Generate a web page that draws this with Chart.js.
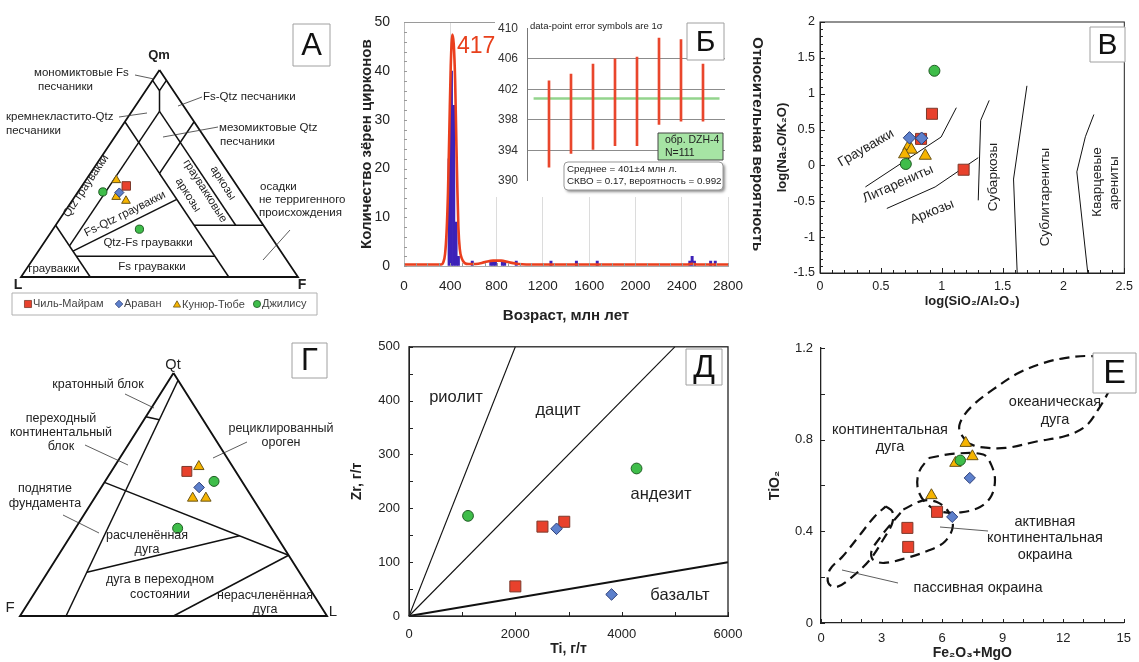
<!DOCTYPE html>
<html>
<head>
<meta charset="utf-8">
<script src="https://cdn.jsdelivr.net/npm/chart.js@4.4.1/dist/chart.umd.min.js"></script>
<style>
  html, body { margin: 0; padding: 0; background: #fff; }
  body { width: 1139px; height: 662px; position: relative; overflow: hidden; }
  canvas { position: absolute; }
  #cBi { background: #fff; }
</style>
</head>
<body>
<canvas id="cA"></canvas>
<canvas id="cB"></canvas>
<canvas id="cBi"></canvas>
<canvas id="cV"></canvas>
<canvas id="cG"></canvas>
<canvas id="cD"></canvas>
<canvas id="cE"></canvas>
<script>
/* ── Data ─────────────────────────────────────────────────────────────── */

var SERIES_NAMES = { chil: 'Чиль-Майрам', aravan: 'Араван', kunyur: 'Кунюр-Тюбе', dzhil: 'Джилису' };

// А: Qm-F-L, percent [Qm, F, L]
var A_CHIL   = [[44, 16, 40]];
var A_ARAVAN = [[40.8, 15.1, 44.1]];
var A_KUNYUR = [[46.8, 11, 42.2], [38.7, 15, 46.3], [36.8, 19.5, 43.7]];
var A_DZHIL  = [[41.1, 9, 49.9], [23.1, 31.2, 45.7]];
var A_FIELDS = [
  [[100, 0, 0], [0, 0, 100], [0, 100, 0], [100, 0, 0]],
  [[95, 0, 5], [90, 5, 5], [95, 5, 0]],
  [[90, 5, 5], [80, 10, 10]],
  [[80, 10, 10], [15, 10, 75]],
  [[80, 10, 10], [25, 65, 10]],
  [[75, 0, 25], [50, 25, 25], [75, 25, 0]],
  [[50, 25, 25], [0, 75, 25]],
  [[37.5, 37.5, 25], [12.5, 12.5, 75]],
  [[25, 0, 75], [0, 25, 75]],
  [[10, 15, 75], [10, 65, 25]],
  [[25, 50, 25], [25, 75, 0]]
];

// Б: detrital zircon ages
var HIST_AGES   = [390, 410, 430, 450, 470, 590, 750, 770, 790, 850, 870, 970, 1270, 1490, 1670, 2470, 2490, 2510, 2650, 2690];
var HIST_COUNTS = [22, 40, 33, 9, 2, 1, 1, 1, 1, 1, 1, 1, 1, 1, 1, 1, 2, 1, 1, 1];
var KDE_AGES   = [0, 200, 320, 340, 355, 368, 380, 392, 404, 418, 430, 442, 452, 461, 470, 482, 500, 525, 560, 620, 700, 770, 840, 900, 960, 1020, 1100, 1400, 1800, 2200, 2440, 2490, 2540, 2800];
var KDE_VALUES = [0.3, 0.3, 0.3, 0.8, 2.5, 7, 15, 28, 41, 47.5, 45.5, 38, 26, 16, 8, 3.5, 1.5, 0.6, 0.4, 0.4, 0.8, 1.1, 1.1, 0.8, 0.5, 0.35, 0.3, 0.3, 0.3, 0.3, 0.3, 0.45, 0.3, 0.3];
var INSET_LOW  = [391.8, 393.6, 394.1, 394.6, 394.6, 397.4, 397.8, 397.8];
var INSET_HIGH = [403.1, 404.0, 405.3, 406.0, 406.2, 408.7, 408.5, 405.3];
var MEAN_AGE   = 400.8;

// В: log(SiO2/Al2O3) vs log(Na2O/K2O)
var V_CHIL   = [[0.92, 0.72], [0.83, 0.37], [1.18, -0.06]];
var V_ARAVAN = [[0.735, 0.385], [0.835, 0.38]];
var V_KUNYUR = [[0.73, 0.27], [0.75, 0.22], [0.695, 0.155], [0.865, 0.135]];
var V_DZHIL  = [[0.94, 1.32], [0.705, 0.02]];
var V_LINES = [
  [[0.373, -0.30], [0.995, 0.396], [1.12, 0.805]],
  [[0.549, -0.60], [0.946, -0.30], [1.30, 0.108]],
  [[1.39, 0.907], [1.32, 0.629], [1.30, -0.487]],
  [[1.70, 1.11], [1.59, -0.19], [1.62, -1.5]],
  [[2.25, 0.71], [2.18, 0.40], [2.11, -0.09], [2.20, -1.5]]
];

// Г: Qt-F-L, percent [Qt, F, L]
var G_CHIL   = [[59.5, 15.9, 24.6]];
var G_ARAVAN = [[52.9, 15.2, 31.9]];
var G_KUNYUR = [[61.5, 11, 27.5], [48.5, 19.5, 32], [48.5, 15.2, 36.3]];
var G_DZHIL  = [[55.4, 9.1, 35.5], [36.1, 30.6, 33.3]];
var G_FIELDS = [
  [[100, 0, 0], [0, 100, 0], [0, 0, 100], [100, 0, 0]],
  [[97, 0, 3], [0, 85, 15]],
  [[82, 18, 0], [80.8, 14.2, 5.0]],
  [[55, 45, 0], [25, 0, 75]],
  [[18, 69.2, 12.8], [33, 12, 55]],
  [[0, 50, 50], [25, 0, 75]]
];

// Д: Ti vs Zr, ppm
var D_CHIL   = [[2510, 166], [2920, 175], [2000, 55]];
var D_ARAVAN = [[2775, 162], [3810, 40]];
var D_DZHIL  = [[1110, 186], [4280, 274]];
var D_LINES  = [[[0, 0], [2000, 500]], [[0, 0], [5000, 500]], [[0, 0], [6000, 100]]];

// Е: Fe2O3+MgO vs TiO2
var E_CHIL   = [[5.75, 0.485], [4.28, 0.415], [4.32, 0.332]];
var E_ARAVAN = [[7.37, 0.633], [6.5, 0.463]];
var E_KUNYUR = [[7.17, 0.785], [7.5, 0.727], [6.66, 0.698], [5.47, 0.557]];
var E_DZHIL  = [[6.9, 0.71]];
var E_OCEANIC = [[7.25, 0.785], [6.85, 0.844], [7.01, 0.895], [7.56, 0.953], [8.51, 1.018], [9.78, 1.091], [11.04, 1.135], [12.07, 1.156], [13.2, 1.165], [14.2, 1.15], [14.5, 1.08], [14.29, 1.018], [13.73, 0.931], [13.10, 0.858], [12.15, 0.817], [10.73, 0.793], [9.15, 0.764], [7.88, 0.768], [7.25, 0.785]];
var E_CONT_ARC = [[5.35, 0.72], [6.61, 0.739], [8.04, 0.735], [8.43, 0.691], [8.62, 0.625], [8.43, 0.553], [7.88, 0.506], [6.93, 0.483], [5.90, 0.487], [5.19, 0.524], [4.79, 0.589], [4.87, 0.662], [5.35, 0.72]];
var E_ACTIVE = [[4.08, 0.495], [5.03, 0.534], [5.74, 0.528], [6.30, 0.487], [6.53, 0.422], [6.14, 0.356], [5.35, 0.317], [4.24, 0.284], [3.13, 0.262], [2.58, 0.276], [2.50, 0.313], [2.97, 0.378], [3.53, 0.439], [4.08, 0.495]];
var E_PASSIVE = [[3.21, 0.509], [3.53, 0.487], [3.53, 0.436], [3.13, 0.371], [2.42, 0.276], [1.47, 0.196], [0.76, 0.157], [0.36, 0.175], [0.44, 0.233], [1.08, 0.291], [1.87, 0.378], [2.66, 0.465], [3.21, 0.509]];

/* ── Styles & helpers ─────────────────────────────────────────────────── */

var FONT = '"Liberation Sans", Arial, sans-serif';
Chart.defaults.font.family = FONT;
Chart.defaults.color = '#222';
Chart.defaults.animation = false;
Chart.defaults.plugins.legend.display = false;
Chart.defaults.plugins.tooltip.enabled = false;

var STYLE = {
  chil:   { ps: 'rect',     bg: '#e8412c', bd: '#7d3a2c', order: 4 },
  kunyur: { ps: 'triangle', bg: '#f6b400', bd: '#6a5416', order: 3 },
  aravan: { ps: 'rectRot',  bg: '#5d80cc', bd: '#2e3f78', order: 2 },
  dzhil:  { ps: 'circle',   bg: '#3fbd4a', bd: '#205c24', order: 1 }
};

function xy(p) { return { x: p[0], y: p[1] }; }
// [Qm, F, L] -> L left, F right, Qm top
function tA(p) { var s = p[0] + p[1] + p[2]; return { x: (p[1] + p[0] / 2) / s, y: p[0] / s }; }
// [Qt, F, L] -> F left, L right, Qt top
function tG(p) { var s = p[0] + p[1] + p[2]; return { x: (p[2] + p[0] / 2) / s, y: p[0] / s }; }

function seg(data, extra) {
  return Object.assign({ type: 'scatter', data: data, showLine: true, pointRadius: 0, borderColor: '#111',
    borderWidth: 1.4, fill: false, clip: false, order: 20 }, extra || {});
}

function markers(sets, conv, r) {
  return Object.keys(sets).map(function (k) {
    var s = STYLE[k];
    return { type: 'scatter', data: sets[k].map(conv), pointStyle: s.ps, pointRadius: r[k],
      pointBackgroundColor: s.bg, pointBorderColor: s.bd, pointBorderWidth: 1, showLine: false,
      clip: false, order: s.order };
  });
}

function plain(v) { return String(+Number(v).toFixed(2)); }

/* ── Annotation plugin (page coordinates) ─────────────────────────────── */

var EXTRA = {};

function drawText(ctx, t, ex) {
  ctx.save();
  ctx.translate(t.x - ex.ox, t.y - ex.oy);
  if (t.rot) ctx.rotate(t.rot * Math.PI / 180);
  ctx.font = (t.bold ? 'bold ' : '') + (t.size || ex.size || 12) + 'px ' + FONT;
  ctx.fillStyle = t.color || '#222';
  ctx.textAlign = t.align || 'center';
  ctx.textBaseline = 'middle';
  ctx.fillText(t.t, 0, 0);
  ctx.restore();
}

function drawBox(ctx, b, ex) {
  var x = b.x0 - ex.ox, y = b.y0 - ex.oy, w = b.x1 - b.x0, h = b.y1 - b.y0;
  ctx.save();
  if (b.shadow) { ctx.shadowColor = 'rgba(0,0,0,0.45)'; ctx.shadowBlur = 3; ctx.shadowOffsetX = 2; ctx.shadowOffsetY = 2; }
  ctx.beginPath();
  if (b.r) ctx.roundRect(x, y, w, h, b.r); else ctx.rect(x, y, w, h);
  ctx.fillStyle = b.fill || '#fff';
  ctx.fill();
  ctx.shadowColor = 'transparent';
  ctx.strokeStyle = b.stroke || '#a0a0a0';
  ctx.lineWidth = b.lw || 1;
  ctx.stroke();
  if (b.letter) {
    ctx.fillStyle = '#111';
    ctx.font = (b.size || 30) + 'px ' + FONT;
    ctx.textAlign = 'center';
    ctx.textBaseline = 'middle';
    ctx.fillText(b.letter, x + w / 2, y + h / 2 + 1);
  }
  ctx.restore();
}

function drawMarker(ctx, key, x, y, r) {
  var s = STYLE[key];
  ctx.fillStyle = s.bg; ctx.strokeStyle = s.bd; ctx.lineWidth = 0.8;
  ctx.beginPath();
  if (s.ps === 'rect') { var h = r * Math.SQRT1_2; ctx.rect(x - h, y - h, 2 * h, 2 * h); }
  else if (s.ps === 'rectRot') { ctx.moveTo(x - r, y); ctx.lineTo(x, y - r); ctx.lineTo(x + r, y); ctx.lineTo(x, y + r); ctx.closePath(); }
  else if (s.ps === 'triangle') { ctx.moveTo(x, y - r); ctx.lineTo(x + r * 0.866, y + r * 0.5); ctx.lineTo(x - r * 0.866, y + r * 0.5); ctx.closePath(); }
  else ctx.arc(x, y, r, 0, Math.PI * 2);
  ctx.fill(); ctx.stroke();
}

Chart.register({
  id: 'extras',
  afterDatasetsDraw: function (chart) {
    var ex = EXTRA[chart.canvas.id];
    if (!ex) return;
    var ctx = chart.ctx, ca = chart.chartArea;
    ctx.save();
    if (ex.frame) {
      ctx.strokeStyle = ex.frame.color; ctx.lineWidth = ex.frame.width;
      ctx.strokeRect(ca.left, ca.top, ca.right - ca.left, ca.bottom - ca.top);
    }
    (ex.ticks || []).forEach(function (t) {
      var sc = chart.scales[t.axis];
      ctx.strokeStyle = t.color || '#222'; ctx.lineWidth = 1;
      for (var v = t.from; v <= t.to + t.step / 1000; v += t.step) {
        var p = Math.round(sc.getPixelForValue(v)) + 0.5;
        ctx.beginPath();
        if (t.axis === 'x') { ctx.moveTo(p, ca.bottom); ctx.lineTo(p, ca.bottom - t.len); }
        else { ctx.moveTo(ca.left, p); ctx.lineTo(ca.left + t.len, p); }
        ctx.stroke();
      }
    });
    (ex.leaders || []).forEach(function (l) {
      ctx.strokeStyle = '#333'; ctx.lineWidth = 0.8;
      ctx.beginPath(); ctx.moveTo(l[0] - ex.ox, l[1] - ex.oy); ctx.lineTo(l[2] - ex.ox, l[3] - ex.oy); ctx.stroke();
    });
    (ex.boxes || []).forEach(function (b) { drawBox(ctx, b, ex); });
    (ex.texts || []).forEach(function (t) { drawText(ctx, t, ex); });
    (ex.legend || []).forEach(function (it) {
      drawMarker(ctx, it.key, it.x - ex.ox, it.y - ex.oy, it.r);
      drawText(ctx, { t: SERIES_NAMES[it.key], x: it.x + 5, y: it.y, align: 'left', size: 11, color: '#444' }, ex);
    });
    ctx.restore();
  }
});

function makeChart(id, box, config, extra) {
  var cv = document.getElementById(id);
  cv.width = box[2]; cv.height = box[3];
  cv.style.left = box[0] + 'px'; cv.style.top = box[1] + 'px';
  cv.style.width = box[2] + 'px'; cv.style.height = box[3] + 'px';
  extra.ox = box[0]; extra.oy = box[1];
  EXTRA[id] = extra;
  config.options.responsive = false;
  config.options.maintainAspectRatio = false;
  config.options.layout.autoPadding = false;
  return new Chart(cv, config);
}

function hiddenScales() {
  return { x: { type: 'linear', min: 0, max: 1, display: false }, y: { type: 'linear', min: 0, max: 1, display: false } };
}

/* ── А: Qm-F-L ternary ────────────────────────────────────────────────── */

makeChart('cA', [0, 0, 345, 330], {
  type: 'scatter',
  data: {
    datasets: A_FIELDS.map(function (l, i) { return seg(l.map(tA), { borderWidth: i === 0 ? 1.8 : 1.5 }); })
      .concat(markers({ chil: A_CHIL, kunyur: A_KUNYUR, aravan: A_ARAVAN, dzhil: A_DZHIL }, tA,
        { chil: 6, kunyur: 5, aravan: 4.6, dzhil: 4.1 }))
  },
  options: { layout: { padding: { left: 21, right: 47, top: 70, bottom: 53 } }, scales: hiddenScales() }
}, {
  size: 11.5,
  leaders: [[135, 75, 154, 79], [202, 97, 178, 106], [119, 117, 147, 113], [218, 127, 163, 137], [290, 230, 263, 260]],
  boxes: [{ x0: 293, y0: 24, x1: 330, y1: 66, letter: 'А', size: 31 },
          { x0: 12, y0: 293, x1: 317, y1: 315, stroke: '#b0b0b0' }],
  texts: [
    { t: 'Qm', x: 159, y: 55, size: 13, bold: true },
    { t: 'L', x: 18, y: 285, size: 14, bold: true },
    { t: 'F', x: 302, y: 285, size: 14, bold: true },
    { t: 'мономиктовые Fs', x: 34, y: 73, align: 'left' },
    { t: 'песчаники', x: 38, y: 87, align: 'left' },
    { t: 'Fs-Qtz песчаники', x: 203, y: 97, align: 'left' },
    { t: 'кремнекластито-Qtz', x: 6, y: 117, align: 'left' },
    { t: 'песчаники', x: 6, y: 131, align: 'left' },
    { t: 'мезомиктовые Qtz', x: 219, y: 128, align: 'left' },
    { t: 'песчаники', x: 220, y: 142, align: 'left' },
    { t: 'осадки', x: 260, y: 187, align: 'left' },
    { t: 'не терригенного', x: 259, y: 200, align: 'left' },
    { t: 'происхождения', x: 259, y: 213, align: 'left' },
    { t: 'Qtz граувакки', x: 86, y: 186, rot: -56.3 },
    { t: 'Fs-Qtz граувакки', x: 125, y: 214, rot: -26.5 },
    { t: 'Qtz-Fs граувакки', x: 148, y: 243 },
    { t: 'Fs граувакки', x: 152, y: 267 },
    { t: 'граувакки', x: 54, y: 269 },
    { t: 'граувакковые', x: 205, y: 191, rot: 57.5 },
    { t: 'аркозы', x: 188, y: 195, rot: 57.5 },
    { t: 'аркозы', x: 223, y: 183, rot: 57.5 }
  ],
  legend: [{ key: 'chil', x: 28, y: 304, r: 5 }, { key: 'aravan', x: 119, y: 304, r: 3.8 },
           { key: 'kunyur', x: 177, y: 305, r: 4.2 }, { key: 'dzhil', x: 257, y: 304, r: 3.6 }]
});

/* ── Б: zircon age histogram + KDE ────────────────────────────────────── */

makeChart('cB', [345, 0, 430, 330], {
  type: 'bar',
  data: {
    datasets: [
      { type: 'line', data: KDE_AGES.map(function (a, i) { return { x: a, y: KDE_VALUES[i] }; }),
        borderColor: '#ea3f1e', borderWidth: 2.6, pointRadius: 0, cubicInterpolationMode: 'monotone', order: 1 },
      { type: 'bar', data: HIST_AGES.map(function (a, i) { return { x: a, y: HIST_COUNTS[i] }; }),
        backgroundColor: '#3d22b8', barPercentage: 1, categoryPercentage: 1, order: 2 }
    ]
  },
  options: {
    layout: { padding: { top: 20, left: 0, right: 0, bottom: 0 } },
    scales: {
      x: { type: 'linear', min: 0, max: 2800, offset: false,
        ticks: { stepSize: 400, padding: 12, font: { size: 13.5 }, callback: plain },
        grid: { color: '#dcdcdc', drawTicks: false, offset: false }, border: { color: '#aaa' },
        title: { display: true, text: 'Возраст, млн лет', font: { size: 15, weight: 'bold' }, padding: { bottom: 5 } },
        afterFit: function (s) { s.height = 64; } },
      y: { min: 0, max: 50,
        ticks: { stepSize: 10, padding: 14, font: { size: 14 } },
        grid: { drawTicks: false, color: function (c) { return c.tick && c.tick.value === 50 ? '#9a9a9a' : 'rgba(0,0,0,0)'; } },
        border: { color: '#bbb' },
        title: { display: true, text: 'Количество зёрен цирконов', font: { size: 15, weight: 'bold' }, padding: { top: 13, bottom: 0 } },
        afterFit: function (s) { s.width = 59; } },
      y2: { position: 'right', display: true, ticks: { display: false }, grid: { display: false, drawTicks: false }, border: { display: false },
        title: { display: true, text: 'Относительная вероятность', font: { size: 15, weight: 'bold' }, padding: { top: 9, bottom: 0 } },
        afterFit: function (s) { s.width = 47; } }
    }
  }
}, {
  ticks: [{ axis: 'y', from: 0, to: 50, step: 2, len: 3, color: '#999' },
          { axis: 'x', from: 0, to: 2800, step: 100, len: 3, color: '#999' }],
  texts: [{ t: '417', x: 457, y: 47, size: 23, color: '#e8401c', align: 'left' }]
});

makeChart('cBi', [495, 12, 235, 185], {
  type: 'bar',
  data: {
    datasets: [
      { type: 'bar', data: INSET_LOW.map(function (lo, i) { return { x: i + 1, y: [lo, INSET_HIGH[i]] }; }),
        backgroundColor: '#e9462c', barThickness: 2, order: 1 },
      { type: 'line', data: [{ x: 0.3, y: MEAN_AGE }, { x: 8.75, y: MEAN_AGE }],
        borderColor: '#93d48d', borderWidth: 2.5, pointRadius: 0, order: 2 }
    ]
  },
  options: {
    layout: { padding: { top: 7, right: 5, bottom: 5, left: 0 } },
    scales: {
      x: { type: 'linear', min: 0, max: 9, offset: false, display: false },
      y: { min: 390, max: 410,
        ticks: { stepSize: 4, padding: 9, font: { size: 12 }, color: '#333' },
        grid: { drawTicks: false, color: function (c) { return c.tick && c.tick.value > 390 && c.tick.value < 410 ? '#8c8c8c' : 'rgba(0,0,0,0)'; } },
        border: { color: '#777' },
        afterFit: function (s) { s.width = 32; } }
    }
  }
}, {
  boxes: [
    { x0: 687, y0: 23, x1: 724, y1: 60, letter: 'Б', size: 30 },
    { x0: 658, y0: 133, x1: 723, y1: 160, fill: '#a6e4a4', stroke: '#444' },
    { x0: 564, y0: 162, x1: 723, y1: 190, r: 4, shadow: true, stroke: '#999' }
  ],
  texts: [
    { t: 'data-point error symbols are 1σ', x: 530, y: 26, size: 9.5, align: 'left' },
    { t: 'обр. DZH-4', x: 665, y: 140, size: 10.5, align: 'left' },
    { t: 'N=111', x: 665, y: 153, size: 10.5, align: 'left' },
    { t: 'Среднее = 401±4 млн л.', x: 567, y: 169, size: 9.8, align: 'left' },
    { t: 'СКВО = 0.17, вероятность = 0.992', x: 567, y: 181, size: 9.8, align: 'left' }
  ]
});

/* ── В: log(SiO2/Al2O3) – log(Na2O/K2O) ───────────────────────────────── */

makeChart('cV', [775, 0, 364, 330], {
  type: 'scatter',
  data: {
    datasets: V_LINES.map(function (l) { return seg(l.map(xy), { borderWidth: 1 }); })
      .concat(markers({ chil: V_CHIL, kunyur: V_KUNYUR, aravan: V_ARAVAN, dzhil: V_DZHIL }, xy,
        { chil: 7.8, kunyur: 7, aravan: 6.2, dzhil: 5.5 }))
  },
  options: {
    layout: { padding: { top: 22, right: 11, left: 0, bottom: 0 } },
    scales: {
      x: { min: 0, max: 2.5, ticks: { stepSize: 0.5, padding: 6, font: { size: 12.5 }, callback: plain },
        grid: { display: false, drawTicks: false }, border: { color: '#222' },
        title: { display: true, text: 'log(SiO₂/Al₂O₃)', font: { size: 13, weight: 'bold' }, padding: { bottom: 21 } },
        afterFit: function (s) { s.height = 57; } },
      y: { min: -1.5, max: 2, ticks: { stepSize: 0.5, padding: 5, font: { size: 12.5 }, callback: plain },
        grid: { display: false, drawTicks: false }, border: { color: '#222' },
        title: { display: true, text: 'log(Na₂O/K₂O)', font: { size: 13, weight: 'bold' }, padding: { top: 0 } },
        afterFit: function (s) { s.width = 45; } }
    }
  }
}, {
  size: 13.5,
  frame: { color: '#222', width: 1 },
  ticks: [{ axis: 'x', from: 0, to: 2.5, step: 0.1, len: 3 }, { axis: 'y', from: -1.5, to: 2, step: 0.1, len: 3 },
          { axis: 'x', from: 0, to: 2.5, step: 0.5, len: 5 }, { axis: 'y', from: -1.5, to: 2, step: 0.5, len: 5 }],
  boxes: [{ x0: 1090, y0: 27, x1: 1125, y1: 62, letter: 'В', size: 30 }],
  texts: [
    { t: 'Граувакки', x: 866, y: 148, rot: -30 },
    { t: 'Литарениты', x: 898, y: 184, rot: -24 },
    { t: 'Аркозы', x: 932, y: 212, rot: -22 },
    { t: 'Субаркозы', x: 993, y: 177, rot: -90 },
    { t: 'Сублитарениты', x: 1045, y: 197, rot: -90 },
    { t: 'Кварцевые', x: 1097, y: 182, rot: -90 },
    { t: 'арениты', x: 1114, y: 183, rot: -90 }
  ]
});

/* ── Г: Qt-F-L ternary ────────────────────────────────────────────────── */

makeChart('cG', [0, 330, 345, 332], {
  type: 'scatter',
  data: {
    datasets: G_FIELDS.map(function (l, i) { return seg(l.map(tG), { borderWidth: i === 0 ? 1.9 : 1.5 }); })
      .concat(markers({ chil: G_CHIL, kunyur: G_KUNYUR, aravan: G_ARAVAN, dzhil: G_DZHIL }, tG,
        { chil: 7, kunyur: 6, aravan: 5.3, dzhil: 5 }))
  },
  options: { layout: { padding: { left: 20, right: 18, top: 43, bottom: 46 } }, scales: hiddenScales() }
}, {
  size: 12.5,
  leaders: [[125, 394, 154, 408], [85, 445, 128, 465], [63, 515, 99, 533], [213, 458, 247, 442]],
  boxes: [{ x0: 292, y0: 343, x1: 327, y1: 378, letter: 'Г', size: 31 }],
  texts: [
    { t: 'Qt', x: 173, y: 365, size: 14.5 },
    { t: 'F', x: 10, y: 608, size: 15 },
    { t: 'L', x: 333, y: 612, size: 15 },
    { t: 'кратонный блок', x: 98, y: 385 },
    { t: 'переходный', x: 61, y: 419 },
    { t: 'континентальный', x: 61, y: 433 },
    { t: 'блок', x: 61, y: 447 },
    { t: 'поднятие', x: 45, y: 489 },
    { t: 'фундамента', x: 45, y: 504 },
    { t: 'рециклированный', x: 281, y: 429 },
    { t: 'ороген', x: 281, y: 443 },
    { t: 'расчленённая', x: 147, y: 536 },
    { t: 'дуга', x: 147, y: 550 },
    { t: 'дуга в переходном', x: 160, y: 580 },
    { t: 'состоянии', x: 160, y: 595 },
    { t: 'нерасчленённая', x: 265, y: 596 },
    { t: 'дуга', x: 265, y: 610 }
  ]
});

/* ── Д: Ti – Zr ───────────────────────────────────────────────────────── */

makeChart('cD', [345, 330, 425, 332], {
  type: 'scatter',
  data: {
    datasets: D_LINES.map(function (l, i) { return seg(l.map(xy), { borderWidth: i === 2 ? 2 : 1.1 }); })
      .concat(markers({ chil: D_CHIL, aravan: D_ARAVAN, dzhil: D_DZHIL }, xy,
        { chil: 7.8, aravan: 5.8, dzhil: 5.4 }))
  },
  options: {
    layout: { padding: { top: 15, right: 42, left: 0, bottom: 0 } },
    scales: {
      x: { min: 0, max: 6000, ticks: { stepSize: 2000, padding: 11, font: { size: 13 }, callback: plain },
        grid: { display: false, drawTicks: false }, border: { color: '#222' },
        title: { display: true, text: 'Ti, г/т', font: { size: 14, weight: 'bold' }, padding: { bottom: 4 } },
        afterFit: function (s) { s.height = 46; } },
      y: { min: 0, max: 500, ticks: { stepSize: 100, padding: 9, font: { size: 13 }, callback: plain },
        grid: { display: false, drawTicks: false }, border: { color: '#222' },
        title: { display: true, text: 'Zr, г/т', font: { size: 14, weight: 'bold' }, padding: { top: 4 } },
        afterFit: function (s) { s.width = 64; } }
    }
  }
}, {
  size: 16.5,
  frame: { color: '#222', width: 1.3 },
  ticks: [{ axis: 'x', from: 0, to: 6000, step: 1000, len: 4 }, { axis: 'y', from: 0, to: 500, step: 50, len: 4 }],
  boxes: [{ x0: 686, y0: 349, x1: 722, y1: 385, letter: 'Д', size: 32 }],
  texts: [
    { t: 'риолит', x: 456, y: 397 },
    { t: 'дацит', x: 558, y: 410 },
    { t: 'андезит', x: 661, y: 494 },
    { t: 'базальт', x: 680, y: 595 }
  ]
});

/* ── Е: Fe2O3+MgO – TiO2 ──────────────────────────────────────────────── */

var DASH = { borderWidth: 2.2, borderDash: [10, 6], tension: 0.35, borderColor: '#111' };

makeChart('cE', [765, 330, 374, 332], {
  type: 'scatter',
  data: {
    datasets: [E_OCEANIC, E_CONT_ARC, E_ACTIVE, E_PASSIVE].map(function (f) { return seg(f.map(xy), DASH); })
      .concat(markers({ chil: E_CHIL, kunyur: E_KUNYUR, aravan: E_ARAVAN, dzhil: E_DZHIL }, xy,
        { chil: 7.8, kunyur: 6.6, aravan: 5.6, dzhil: 5.2 }))
  },
  options: {
    layout: { padding: { top: 18, right: 2, left: 0, bottom: 0 } },
    scales: {
      x: { min: 0, max: 15, ticks: { stepSize: 3, padding: 8, font: { size: 13 }, callback: plain },
        grid: { display: false, drawTicks: false }, border: { color: '#222', width: 1.3 },
        title: { display: true, text: 'Fe₂O₃+MgO', font: { size: 14, weight: 'bold' }, padding: { bottom: 0 } },
        afterFit: function (s) { s.height = 39; } },
      y: { min: 0, max: 1.2, ticks: { stepSize: 0.4, padding: 8, font: { size: 13 }, callback: plain },
        grid: { display: false, drawTicks: false }, border: { color: '#222', width: 1.3 },
        title: { display: true, text: 'TiO₂', font: { size: 14, weight: 'bold' }, padding: { top: 2 } },
        afterFit: function (s) { s.width = 56; } }
    }
  }
}, {
  size: 14.5,
  ticks: [{ axis: 'x', from: 0, to: 15, step: 1, len: 4 }, { axis: 'y', from: 0, to: 1.2, step: 0.2, len: 4 }],
  leaders: [[940, 527, 988, 531], [842, 570, 898, 583]],
  boxes: [{ x0: 1093, y0: 353, x1: 1136, y1: 393, letter: 'Е', size: 34 }],
  texts: [
    { t: 'океаническая', x: 1055, y: 402 },
    { t: 'дуга', x: 1055, y: 420 },
    { t: 'континентальная', x: 890, y: 430 },
    { t: 'дуга', x: 890, y: 447 },
    { t: 'активная', x: 1045, y: 522 },
    { t: 'континентальная', x: 1045, y: 538 },
    { t: 'окраина', x: 1045, y: 555 },
    { t: 'пассивная окраина', x: 978, y: 588 }
  ]
});
</script>
</body>
</html>
